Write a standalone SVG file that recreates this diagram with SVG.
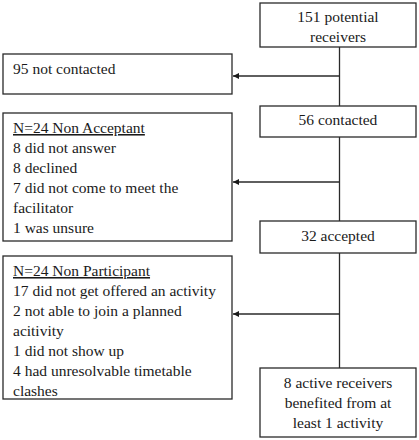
<svg xmlns="http://www.w3.org/2000/svg" width="419" height="440" viewBox="0 0 419 440">
<defs>
<style>
.box{fill:#fff;stroke:#2a2a2a;stroke-width:1.3}
.t{font-family:"Liberation Serif","Times New Roman",serif;font-size:15.5px;fill:#1a1a1a}
.c{text-anchor:middle}
.u{text-decoration:underline}
.ln{stroke:#2a2a2a;stroke-width:1.3;fill:none}
</style>
<marker id="ah" viewBox="0 0 10 10" refX="10" refY="5" markerWidth="8" markerHeight="6" markerUnits="userSpaceOnUse" orient="auto">
<path d="M0,0 L10,5 L0,10 z" fill="#1a1a1a"/>
</marker>
</defs>
<rect width="419" height="440" fill="#fff"/>
<g id="connectors">
<line class="ln" x1="339.5" y1="47" x2="339.5" y2="106"/>
<line class="ln" x1="339.5" y1="137" x2="339.5" y2="221"/>
<line class="ln" x1="339.5" y1="253" x2="339.5" y2="368"/>
<line class="ln" x1="339.5" y1="76" x2="233" y2="76" marker-end="url(#ah)"/>
<line class="ln" x1="339.5" y1="182" x2="233" y2="182" marker-end="url(#ah)"/>
<line class="ln" x1="339.5" y1="314" x2="233" y2="314" marker-end="url(#ah)"/>
</g>
<g id="n151">
<rect class="box" x="260" y="3" width="156" height="44"/>
<text class="t c" x="338" y="22">151 potential</text>
<text class="t c" x="338" y="42">receivers</text>
</g>
<g id="n95">
<rect class="box" x="3" y="54" width="229" height="40"/>
<text class="t" x="13" y="74">95 not contacted</text>
</g>
<g id="n56">
<rect class="box" x="260" y="106" width="156" height="31"/>
<text class="t c" x="338" y="125">56 contacted</text>
</g>
<g id="nNonAcc">
<rect class="box" x="3" y="113" width="229" height="128"/>
<text class="t u" x="13" y="133">N=24 Non Acceptant</text>
<text class="t" x="13" y="153">8 did not answer</text>
<text class="t" x="13" y="173">8 declined</text>
<text class="t" x="13" y="193">7 did not come to meet the</text>
<text class="t" x="13" y="213">facilitator</text>
<text class="t" x="13" y="233">1 was unsure</text>
</g>
<g id="n32">
<rect class="box" x="260" y="221" width="156" height="32"/>
<text class="t c" x="338" y="241">32 accepted</text>
</g>
<g id="nNonPart">
<rect class="box" x="3" y="256" width="229" height="143"/>
<text class="t u" x="13" y="276">N=24 Non Participant</text>
<text class="t" x="13" y="296">17 did not get offered an activity</text>
<text class="t" x="13" y="316">2 not able to join a planned</text>
<text class="t" x="13" y="336">acitivity</text>
<text class="t" x="13" y="356">1 did not show up</text>
<text class="t" x="13" y="376">4 had unresolvable timetable</text>
<text class="t" x="13" y="396">clashes</text>
</g>
<g id="n8">
<rect class="box" x="260" y="368" width="156" height="69"/>
<text class="t c" x="338" y="388">8 active receivers</text>
<text class="t c" x="338" y="408">benefited from at</text>
<text class="t c" x="338" y="428">least 1 activity</text>
</g>
</svg>
